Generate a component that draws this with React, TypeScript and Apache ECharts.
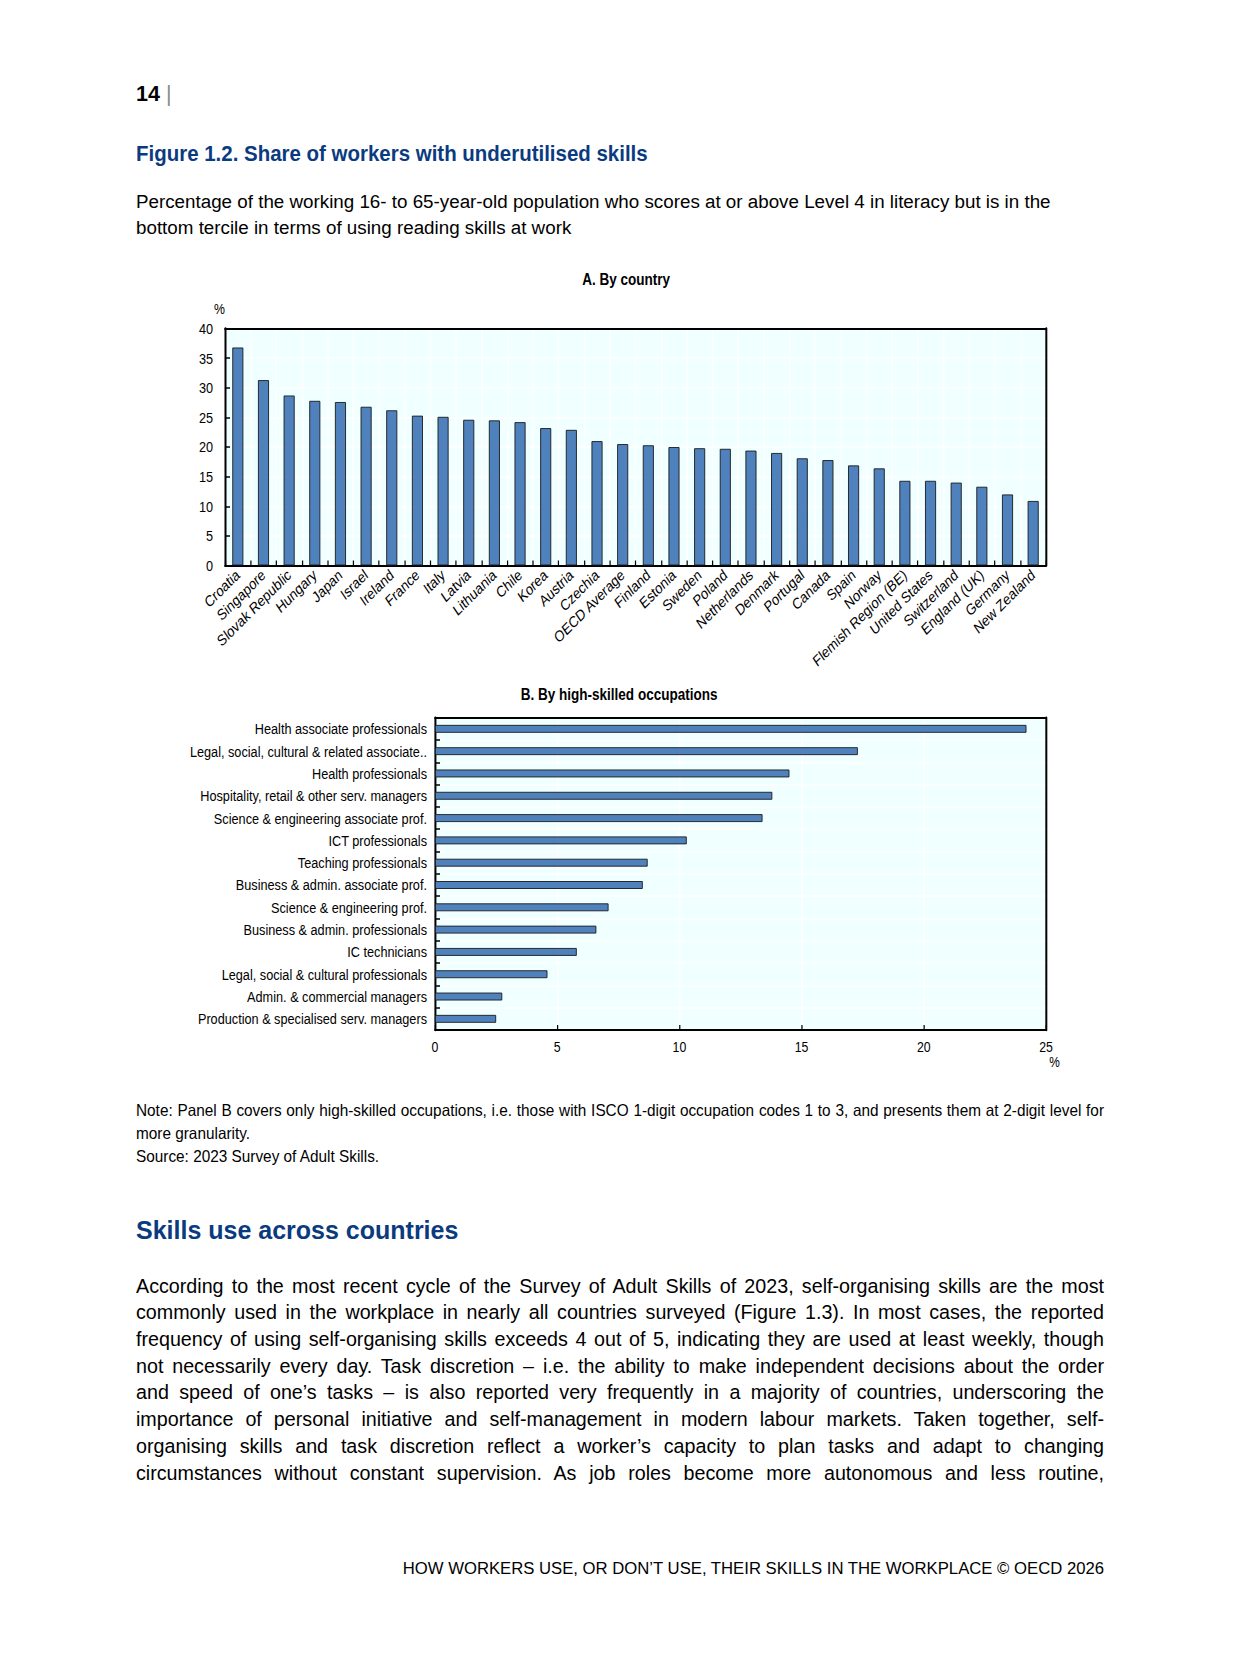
import * as echarts from "echarts";
import React, { useEffect, useRef } from "react";

// panel A - by country
const countries = [
  "Croatia", "Singapore", "Slovak Republic", "Hungary", "Japan", "Israel", "Ireland", "France",
  "Italy", "Latvia", "Lithuania", "Chile", "Korea", "Austria", "Czechia", "OECD Average",
  "Finland", "Estonia", "Sweden", "Poland", "Netherlands", "Denmark", "Portugal", "Canada",
  "Spain", "Norway", "Flemish Region (BE)", "United States", "Switzerland", "England (UK)",
  "Germany", "New Zealand",
];
const countryShares = [
  36.8, 31.3, 28.7, 27.8, 27.6, 26.8, 26.2, 25.3, 25.1, 24.6, 24.5, 24.2, 23.2, 22.9, 21.0, 20.5,
  20.3, 20.0, 19.8, 19.7, 19.4, 19.0, 18.1, 17.8, 16.9, 16.4, 14.3, 14.3, 14.0, 13.3, 12.0, 10.9,
];

// panel B - by high-skilled occupation (top to bottom)
const occupations = [
  "Health associate professionals",
  "Legal, social, cultural & related associate..",
  "Health professionals",
  "Hospitality, retail & other serv. managers",
  "Science & engineering associate prof.",
  "ICT professionals",
  "Teaching professionals",
  "Business & admin. associate prof.",
  "Science & engineering prof.",
  "Business & admin. professionals",
  "IC technicians",
  "Legal, social & cultural professionals",
  "Admin. & commercial managers",
  "Production & specialised serv. managers",
];
const occupationShares = [24.2, 17.3, 14.5, 13.8, 13.4, 10.3, 8.7, 8.5, 7.1, 6.6, 5.8, 4.6, 2.75, 2.5];

const countryAxis = { min: 0, max: 40, interval: 5 };
const occupationAxis = { min: 0, max: 25, interval: 5 };

// no Arial Narrow available: the chart is laid out wider and squeezed horizontally
const SQ = 0.82;
const ARIAL = '"Liberation Sans", Arial, sans-serif';
const BLUE = "#0b3b7f";
const BAR = "#4f81bd";
const PLOT_BG = "#f0ffff";

const bodyLines = [
  "According to the most recent cycle of the Survey of Adult Skills of 2023, self-organising skills are the most",
  "commonly used in the workplace in nearly all countries surveyed (Figure 1.3). In most cases, the reported",
  "frequency of using self-organising skills exceeds 4 out of 5, indicating they are used at least weekly, though",
  "not necessarily every day. Task discretion – i.e. the ability to make independent decisions about the order",
  "and speed of one’s tasks – is also reported very frequently in a majority of countries, underscoring the",
  "importance of personal initiative and self-management in modern labour markets. Taken together, self-",
  "organising skills and task discretion reflect a worker’s capacity to plan tasks and adapt to changing",
  "circumstances without constant supervision. As job roles become more autonomous and less routine,",
];

const px = (x: number) => x / SQ;

const UnderutilisedSkillsChart: React.FC = () => {
  const chartRef = useRef<HTMLDivElement>(null);

  useEffect(() => {
    if (!chartRef.current) return;
    const chart = echarts.init(chartRef.current, undefined, { renderer: "svg" });

    const hLine = { show: true, onZero: false, lineStyle: { color: "#000", width: 2 } };
    const vLine = { show: true, onZero: false, lineStyle: { color: "#000", width: 2 / SQ } };
    const tick = { show: true, inside: true, length: 5, lineStyle: { color: "#000", width: 1.5 } };
    const tickH = { ...tick, length: px(5), lineStyle: { color: "#000", width: 1.5 } };
    const splitV = { show: true, lineStyle: { color: "#ffffff", width: 1.5 / SQ } };
    const splitH = { show: true, lineStyle: { color: "#ffffff", width: 1.5 } };
    const label = { color: "#000", fontFamily: ARIAL };
    const frame = (line: object) => ({
      type: "value",
      axisLine: line,
      axisTick: { show: false },
      axisLabel: { show: false },
      splitLine: { show: false },
    });

    chart.setOption({
      animation: false,
      textStyle: { fontFamily: ARIAL },
      title: [
        {
          text: "A. By country",
          left: px(622),
          top: 15,
          textAlign: "center",
          textStyle: { fontSize: 16.5, fontWeight: "bold", color: "#000", fontFamily: ARIAL },
        },
        {
          text: "B. By high-skilled occupations",
          left: px(615),
          top: 430,
          textAlign: "center",
          textStyle: { fontSize: 16.5, fontWeight: "bold", color: "#000", fontFamily: ARIAL },
        },
      ],
      grid: [
        { left: px(225), top: 78.5, width: px(821), height: 237, show: true, backgroundColor: PLOT_BG, borderWidth: 0 },
        { left: px(435), top: 467.7, width: px(611), height: 312.3, show: true, backgroundColor: PLOT_BG, borderWidth: 0 },
      ],
      xAxis: [
        {
          gridIndex: 0,
          type: "category",
          data: countries,
          axisLine: hLine,
          axisTick: tick,
          splitLine: splitV,
          axisLabel: { ...label, fontSize: 15.5, rotate: (Math.atan(SQ) * 180) / Math.PI, interval: 0, margin: 7 },
        },
        {
          gridIndex: 1,
          type: "value",
          ...occupationAxis,
          axisLine: hLine,
          axisTick: tick,
          splitLine: splitV,
          axisLabel: { ...label, fontSize: 15, margin: 10 },
          name: "%",
          nameLocation: "end",
          nameGap: 4,
          nameTextStyle: { ...label, fontSize: 14.5, align: "left", verticalAlign: "top", padding: [25, 0, 0, 0] },
        },
        { gridIndex: 0, position: "top", ...frame(hLine) },
        { gridIndex: 1, position: "top", ...frame(hLine) },
      ],
      yAxis: [
        {
          gridIndex: 0,
          type: "value",
          ...countryAxis,
          axisLine: vLine,
          axisTick: tickH,
          splitLine: splitH,
          axisLabel: { ...label, fontSize: 15.5, margin: px(12) },
          name: "%",
          nameLocation: "end",
          nameGap: 12,
          nameTextStyle: { ...label, fontSize: 15, align: "right" },
        },
        {
          gridIndex: 1,
          type: "category",
          inverse: true,
          data: occupations,
          axisLine: vLine,
          axisTick: tickH,
          splitLine: splitH,
          axisLabel: { ...label, fontSize: 15.5, interval: 0, margin: px(8) },
        },
        { gridIndex: 0, position: "right", ...frame(vLine) },
        { gridIndex: 1, position: "right", ...frame(vLine) },
      ],
      series: [
        {
          type: "bar",
          xAxisIndex: 0,
          yAxisIndex: 0,
          data: countryShares,
          barWidth: px(11),
          itemStyle: { color: BAR, borderColor: "#1c1c1c", borderWidth: 1 },
        },
        {
          type: "bar",
          xAxisIndex: 1,
          yAxisIndex: 1,
          data: occupationShares,
          barWidth: 8,
          itemStyle: { color: BAR, borderColor: "#1c1c1c", borderWidth: 1 },
        },
      ],
    });

    return () => { chart.dispose(); };
  }, []);

  return (
    <div
      ref={chartRef}
      style={{
        position: "absolute", left: 0, top: 250, width: px(1241), height: 850,
        transform: `scaleX(${SQ})`, transformOrigin: "0 0",
      }}
    />
  );
};

// text squeezed horizontally to stand in for a narrow face
const Squeezed: React.FC<{ top: number; scale: number; width?: number; style: React.CSSProperties; children: React.ReactNode }> = ({ top, scale, width, style, children }) => (
  <div
    style={{
      position: "absolute", left: 136, top, margin: 0, whiteSpace: "nowrap",
      transform: `scaleX(${scale})`, transformOrigin: "0 0",
      width: width ? width / scale : undefined, ...style,
    }}
  >
    {children}
  </div>
);

const App: React.FC = () => {
  useEffect(() => {
    document.body.style.margin = "0";
  }, []);

  const abs = (top: number, extra: React.CSSProperties = {}): React.CSSProperties => ({
    position: "absolute", left: 136, top, margin: 0, ...extra,
  });

  return (
    <div style={{ position: "relative", width: 1241, height: 1654, background: "#fff", color: "#000", overflow: "hidden" }}>
      <div style={abs(81, { fontFamily: ARIAL, fontSize: 21.5, fontWeight: "bold", lineHeight: "26px" })}>
        14 <span style={{ fontWeight: "normal", color: "#8a8a8a" }}>|</span>
      </div>
      <Squeezed top={140} scale={0.93} style={{ fontFamily: ARIAL, fontSize: 22, fontWeight: "bold", lineHeight: "28px", color: BLUE }}>
        Figure 1.2. Share of workers with underutilised skills
      </Squeezed>
      <div style={abs(188.5, { fontFamily: ARIAL, fontSize: 18.8, lineHeight: "26.4px", whiteSpace: "nowrap" })}>
        Percentage of the working 16- to 65-year-old population who scores at or above Level 4 in literacy but is in the
        <br />
        bottom tercile in terms of using reading skills at work
      </div>

      <UnderutilisedSkillsChart />

      <Squeezed top={1099} scale={0.93} width={968} style={{ fontFamily: ARIAL, fontSize: 16.5, lineHeight: "23px" }}>
        <div style={{ textAlign: "justify", textAlignLast: "justify" }}>
          Note: Panel B covers only high-skilled occupations, i.e. those with ISCO 1-digit occupation codes 1 to 3, and presents them at 2-digit level for
        </div>
        <div>more granularity.</div>
        <div>Source: 2023 Survey of Adult Skills.</div>
      </Squeezed>

      <div style={abs(1215, { fontFamily: ARIAL, fontSize: 25, fontWeight: "bold", lineHeight: "30px", color: BLUE })}>
        Skills use across countries
      </div>

      <div style={abs(1272.6, { fontFamily: ARIAL, fontSize: 19.7, lineHeight: "26.7px", width: 968 })}>
        {bodyLines.map((line) => (
          <div key={line} style={{ whiteSpace: "nowrap", textAlign: "justify", textAlignLast: "justify" }}>
            {line}
          </div>
        ))}
      </div>

      <div style={{ position: "absolute", right: 137, top: 1559, fontFamily: ARIAL, fontSize: 16.7, lineHeight: "20px", whiteSpace: "nowrap" }}>
        HOW WORKERS USE, OR DON’T USE, THEIR SKILLS IN THE WORKPLACE © OECD 2026
      </div>
    </div>
  );
};

export default App;
